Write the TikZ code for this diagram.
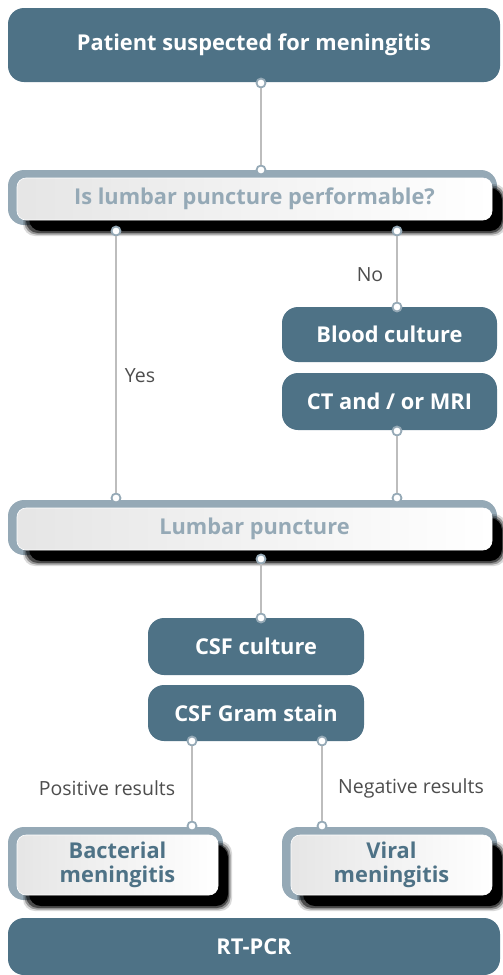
\documentclass[tikz,border=0pt]{standalone}
\usepackage{fontspec}
\setmainfont{Open Sans}
\usetikzlibrary{calc}
\definecolor{dteal}{HTML}{4E7286}
\definecolor{fgray}{HTML}{95A9B6}
\definecolor{lgray}{HTML}{BDBDBD}
\definecolor{tgray}{HTML}{4D4D4D}
\tikzset{
  darkbox/.style={fill=dteal, rounded corners=16, text=white, font=\bfseries\fontsize{21.8}{24}\selectfont, inner sep=0pt},
  lightbox/.style={rounded corners=9, left color=black!10, right color=white, draw=white, line width=0.6pt, font=\bfseries\fontsize{21.8}{24.5}\selectfont, align=center, inner sep=0pt},
  dot/.style={circle, draw=fgray, fill=white, line width=1.8pt, inner sep=0pt, minimum size=9pt},
  conn/.style={draw=lgray, line width=1.3pt},
  lbl/.style={text=tgray, font=\fontsize{19.5}{22}\selectfont, inner sep=0pt}
}
% #1 name, #2 x1, #3 y1, #4 x2, #5 y2 (inner box), #6 text colour, #7 text
\newcommand\framedbox[7]{%
  \fill[fgray, rounded corners=16] (#2-9,#3-8) rectangle (#4+5,#5+5);
  \foreach \e/\o in {4/0.15,2.5/0.3,1/0.5}{
    \fill[black, opacity=\o, rounded corners=12] (#2+10-\e,#3+10-\e) rectangle (#4+10+\e,#5+12+\e);}
  \fill[black, rounded corners=12] (#2+12,#3+10) rectangle (#4+10,#5+11);
  \node[lightbox, text=#6, minimum width=#4-#2, minimum height=#5-#3] (#1) at ({(#2+#4)/2},{(#3+#5)/2}) {#7};
}
\begin{document}
\begin{tikzpicture}[x=1pt,y=-1pt]
\useasboundingbox (0,0) rectangle (503,975);
% top
\node[darkbox, minimum width=492pt, minimum height=74pt] (top) at (254,45) {Patient suspected for meningitis};
% question
\framedbox{q}{17}{178}{492}{220}{fgray}{Is lumbar puncture performable?}
% blood culture, CT
\node[darkbox, minimum width=215pt, minimum height=55pt] (blood) at (389.5,334.5) {Blood culture};
\node[darkbox, minimum width=215pt, minimum height=57pt] (ct) at (389.5,401.5) {CT and / or MRI};
% lumbar puncture
\framedbox{lp}{17}{508}{492}{550}{fgray}{Lumbar puncture}
% CSF
\node[darkbox, minimum width=216pt, minimum height=57pt] (csfc) at (256,646.5) {CSF culture};
\node[darkbox, minimum width=216pt, minimum height=56pt] (csfg) at (256,713) {CSF Gram stain};
% outcomes
\framedbox{bact}{17}{835}{218}{895}{dteal}{Bacterial\\meningitis}
\framedbox{vir}{291}{835}{492}{895}{dteal}{Viral\\meningitis}
% RT-PCR
\node[darkbox, minimum width=492pt, minimum height=57pt] (rt) at (254,946.5) {RT-PCR};
% dots
\node[dot] (d1) at (261,83) {};
\node[dot] (d2) at (261,170) {};
\node[dot] (d3) at (116,231) {};
\node[dot] (d4) at (397,231) {};
\node[dot] (d5) at (397,307) {};
\node[dot] (d6) at (397,431) {};
\node[dot] (d7) at (116,498) {};
\node[dot] (d8) at (397,498) {};
\node[dot] (d9) at (261,559) {};
\node[dot] (d10) at (261,618) {};
\node[dot] (d11) at (192,741) {};
\node[dot] (d12) at (322,741) {};
\node[dot] (d13) at (192,826) {};
\node[dot] (d14) at (322,826) {};
% connectors
\draw[conn] (d1) -- (d2);
\draw[conn] (d3) -- (d7);
\draw[conn] (d4) -- (d5);
\draw[conn] (d6) -- (d8);
\draw[conn] (d9) -- (d10);
\draw[conn] (d11) -- (d13);
\draw[conn] (d12) -- (d14);
% labels
\node[lbl] (no) at (370,275) {No};
\node[lbl] (yes) at (140,376) {Yes};
\node[lbl] (pos) at (107,788) {Positive results};
\node[lbl] (neg) at (411,788) {Negative results};
\end{tikzpicture}
\end{document}
